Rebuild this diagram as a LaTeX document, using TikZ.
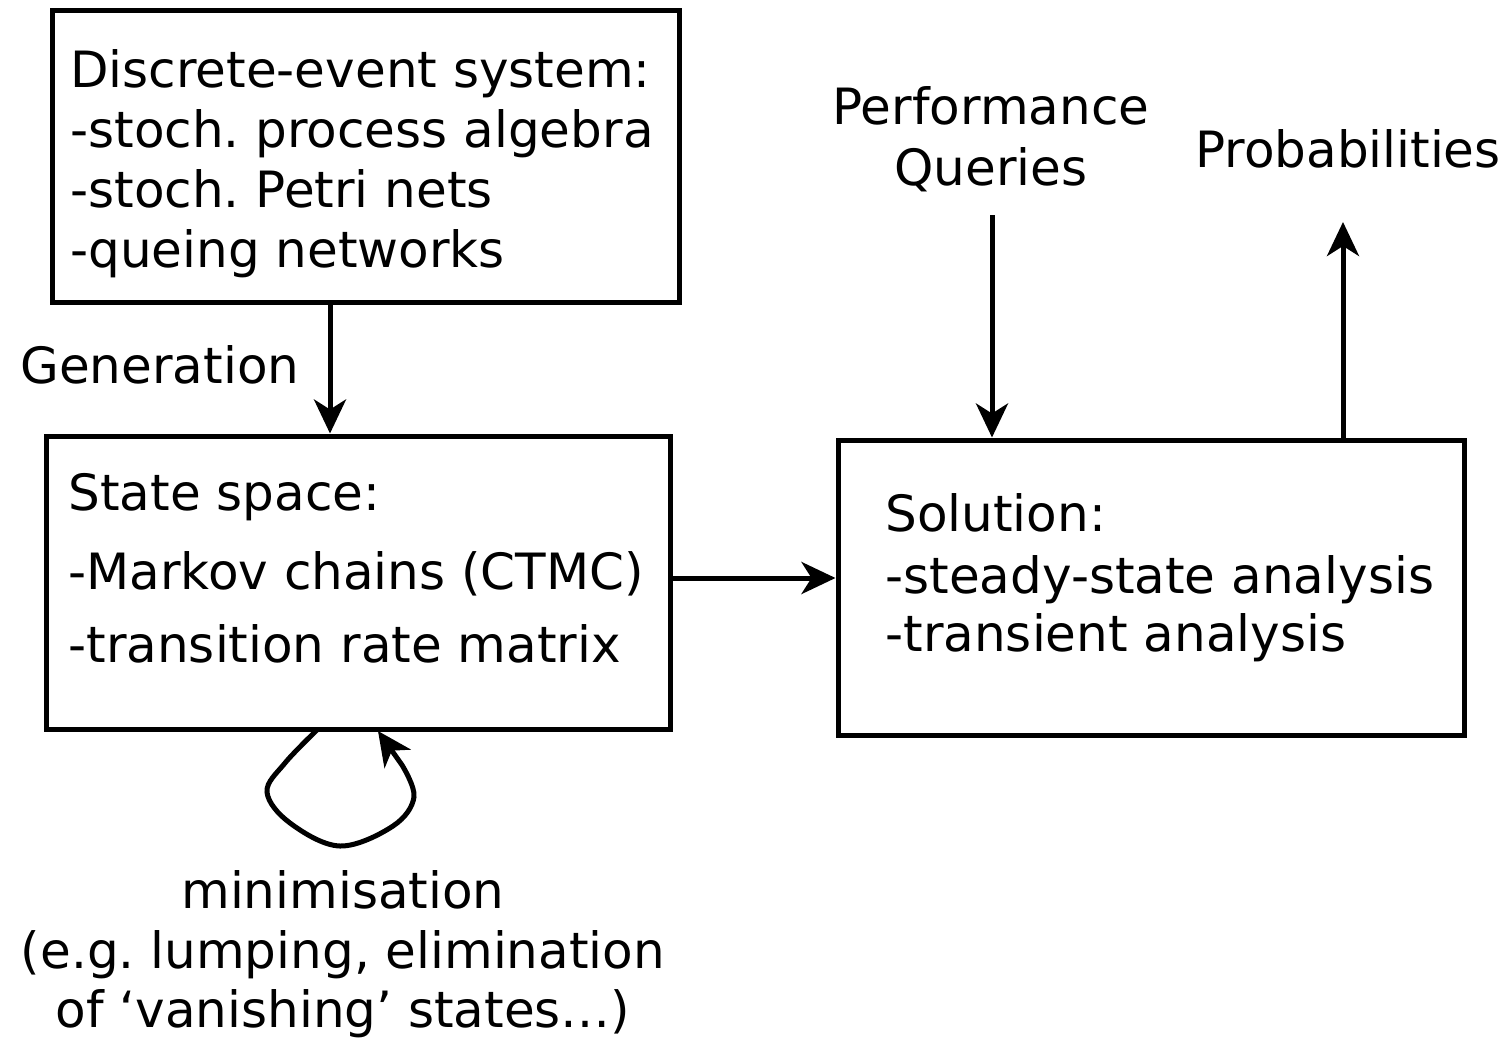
\documentclass[tikz,border=0pt]{standalone}
\usepackage{fontspec}
\setmainfont{DejaVu Sans}
\usetikzlibrary{arrows.meta}
\frenchspacing
\begin{document}
\begin{tikzpicture}[x=0.5pt,y=-0.5pt,
  box/.style={draw, line width=2.5pt, inner sep=0pt},
  txt/.style={inner sep=0pt, anchor=base west, font=\fontsize{25pt}{30pt}\selectfont},
  ctxt/.style={inner sep=0pt, anchor=base, font=\fontsize{25pt}{30pt}\selectfont},
  arr/.style={line width=2.5pt, -{Stealth[length=17pt,width=16pt,inset=5pt]}}]
\useasboundingbox (0,0) rectangle (1512,1040);
% boxes
\node[box, minimum width=313.5pt, minimum height=146pt] (b1) at (365.5,156) {};
\node[box, minimum width=312pt, minimum height=146.5pt] (b2) at (358,582.5) {};
\node[box, minimum width=313pt, minimum height=147.5pt] (b3) at (1151,587.5) {};
% box 1 text
\node[txt] (t11) at (70,87) {Discrete-event system:};
\node[txt] (t12) at (70,147) {-stoch. process algebra};
\node[txt] (t13) at (70,207) {-stoch. Petri nets};
\node[txt] (t14) at (70,267) {-queing networks};
% box 2 text
\node[txt] (t21) at (68,510) {State space:};
\node[txt] (t22) at (68,589) {-Markov chains (CTMC)};
\node[txt] (t23) at (68,662) {-transition rate matrix};
% box 3 text
\node[txt] (t31) at (885,531) {Solution:};
\node[txt] (t32) at (885,593) {-steady-state analysis};
\node[txt] (t33) at (885,651) {-transient analysis};
% labels
\node[txt] (gen) at (20,383) {Generation};
\node[ctxt] (perf) at (991,124) {Performance};
\node[ctxt] (quer) at (991,185) {Queries};
\node[ctxt] (prob) at (1348,167) {Probabilities};
\node[ctxt] (m1) at (343,908) {minimisation};
\node[ctxt] (m2) at (343,968) {(e.g. lumping, elimination};
\node[ctxt] (m3) at (343,1027) {of ‘vanishing’ states…)};
% connectors
\coordinate (gx) at (330,0);
\draw[arr] (b1.south -| gx) -- (b2.north -| gx);
\coordinate (sy) at (0,578);
\draw[arr] (b2.east |- sy) -- (b3.west |- sy);
\coordinate (qs) at (992,215);
\draw[arr] (qs) -- (b3.north -| qs);
\coordinate (pe) at (1343,222);
\draw[arr] (b3.north -| pe) -- (pe);
% loop
\coordinate (ls) at (318,729);
\coordinate (le) at (378,731);
\draw[arr] (ls) plot[smooth, tension=0.6] coordinates {(318,729) (285,763) (267,792) (290,823) (340,846) (393,826) (414,797) (402,765)} -- (le);
\end{tikzpicture}
\end{document}
